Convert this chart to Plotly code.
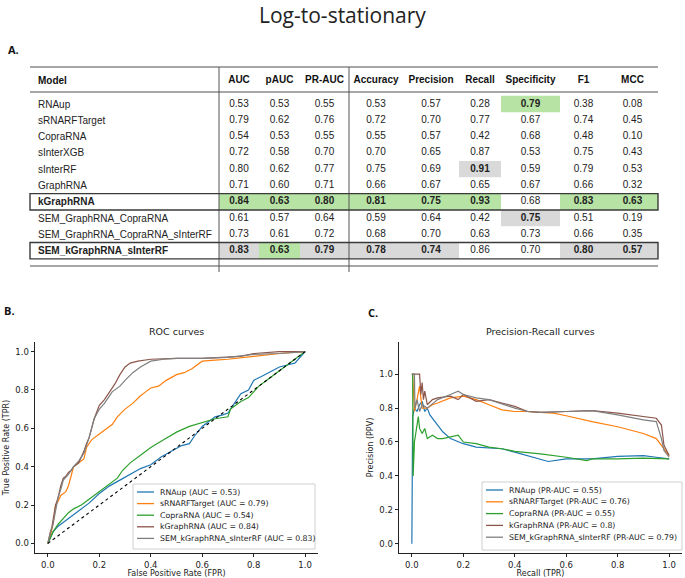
import plotly.graph_objects as go

W, H = 685, 578

# ---------------- table data ----------------
models = ["RNAup", "sRNARFTarget", "CopraRNA", "sInterXGB", "sInterRF", "GraphRNA",
          "kGraphRNA", "SEM_GraphRNA_CopraRNA", "SEM_GraphRNA_CopraRNA_sInterRF",
          "SEM_kGraphRNA_sInterRF"]
metrics = ["AUC", "pAUC", "PR-AUC", "Accuracy", "Precision", "Recall", "Specificity", "F1", "MCC"]
auc = [0.53, 0.79, 0.54, 0.72, 0.80, 0.71, 0.84, 0.61, 0.73, 0.83]
pauc = [0.53, 0.62, 0.53, 0.58, 0.62, 0.60, 0.63, 0.57, 0.61, 0.63]
pr_auc = [0.55, 0.76, 0.55, 0.70, 0.77, 0.71, 0.80, 0.64, 0.72, 0.79]
accuracy = [0.53, 0.72, 0.55, 0.70, 0.75, 0.66, 0.81, 0.59, 0.68, 0.78]
precision = [0.57, 0.70, 0.57, 0.65, 0.69, 0.67, 0.75, 0.64, 0.70, 0.74]
recall = [0.28, 0.77, 0.42, 0.87, 0.91, 0.65, 0.93, 0.42, 0.63, 0.86]
specificity = [0.79, 0.67, 0.68, 0.53, 0.59, 0.67, 0.68, 0.75, 0.73, 0.70]
f1 = [0.38, 0.74, 0.48, 0.75, 0.79, 0.66, 0.83, 0.51, 0.66, 0.80]
mcc = [0.08, 0.45, 0.10, 0.43, 0.53, 0.32, 0.63, 0.19, 0.35, 0.57]
columns = [auc, pauc, pr_auc, accuracy, precision, recall, specificity, f1, mcc]

# highlighted cells (row index, metric)
green_cells = [(0, "Specificity"), (6, "AUC"), (6, "pAUC"), (6, "PR-AUC"), (6, "Accuracy"),
               (6, "Precision"), (6, "Recall"), (6, "F1"), (6, "MCC"), (9, "pAUC")]
grey_cells = [(4, "Recall"), (7, "Specificity"), (9, "AUC"), (9, "PR-AUC"), (9, "Accuracy"),
              (9, "Precision"), (9, "F1"), (9, "MCC")]
boxed_rows = [6, 9]

# ---------------- curve data ----------------
names = ["RNAup", "sRNARFTarget", "CopraRNA", "kGraphRNA", "SEM_kGraphRNA_sInterRF"]
roc_auc = ["0.53", "0.79", "0.54", "0.84", "0.83"]
pr_auc_lbl = ["0.55", "0.76", "0.55", "0.8", "0.79"]
colors = ["#1f77b4", "#ff7f0e", "#2ca02c", "#8c564b", "#7f7f7f"]

roc_rnaup_x = [0, 0.01, 0.02, 0.04, 0.06, 0.08, 0.10, 0.13, 0.16, 0.20, 0.24, 0.28, 0.32, 0.36, 0.40,
               0.44, 0.48, 0.52, 0.55, 0.57, 0.60, 0.62, 0.65, 0.68, 0.70, 0.72, 0.75, 0.78, 0.80,
               0.83, 0.86, 0.90, 0.93, 0.96, 1.0]
roc_rnaup_y = [0, 0.03, 0.06, 0.09, 0.11, 0.13, 0.15, 0.18, 0.21, 0.26, 0.30, 0.33, 0.36, 0.39, 0.41,
               0.45, 0.48, 0.51, 0.52, 0.56, 0.61, 0.63, 0.66, 0.67, 0.68, 0.72, 0.78, 0.80, 0.85,
               0.87, 0.89, 0.92, 0.93, 0.94, 1.0]
roc_srnarf_x = [0, 0.01, 0.02, 0.03, 0.04, 0.05, 0.07, 0.08, 0.09, 0.10, 0.12, 0.14, 0.15, 0.17, 0.20,
                0.22, 0.25, 0.27, 0.30, 0.33, 0.36, 0.38, 0.40, 0.43, 0.46, 0.50, 0.53, 0.56, 0.60,
                0.65, 0.70, 0.80, 0.90, 1.0]
roc_srnarf_y = [0, 0.04, 0.10, 0.20, 0.22, 0.25, 0.27, 0.30, 0.35, 0.40, 0.42, 0.44, 0.50, 0.54, 0.57,
                0.59, 0.62, 0.66, 0.70, 0.73, 0.77, 0.79, 0.81, 0.82, 0.85, 0.88, 0.89, 0.91, 0.95,
                0.955, 0.96, 0.975, 0.99, 1.0]
roc_copra_x = [0, 0.01, 0.02, 0.04, 0.06, 0.08, 0.10, 0.13, 0.16, 0.20, 0.24, 0.27, 0.29, 0.32, 0.36,
               0.40, 0.45, 0.50, 0.55, 0.60, 0.65, 0.70, 0.71, 0.75, 0.78, 0.80, 0.82, 0.86, 0.90,
               0.95, 1.0]
roc_copra_y = [0, 0.03, 0.06, 0.10, 0.13, 0.16, 0.18, 0.20, 0.23, 0.27, 0.31, 0.34, 0.38, 0.42, 0.46,
               0.50, 0.54, 0.58, 0.61, 0.63, 0.65, 0.66, 0.70, 0.74, 0.76, 0.79, 0.82, 0.86, 0.90,
               0.95, 1.0]
roc_kgraph_x = [0, 0.005, 0.01, 0.015, 0.02, 0.025, 0.03, 0.04, 0.05, 0.06, 0.07, 0.08, 0.09, 0.10,
                0.12, 0.13, 0.14, 0.15, 0.16, 0.17, 0.18, 0.20, 0.22, 0.24, 0.26, 0.28, 0.30, 0.32,
                0.35, 0.40, 0.50, 0.60, 0.70, 0.75, 0.80, 0.85, 0.90, 1.0]
roc_kgraph_y = [0, 0.04, 0.06, 0.08, 0.12, 0.18, 0.20, 0.24, 0.30, 0.34, 0.35, 0.37, 0.38, 0.40,
                0.42, 0.45, 0.48, 0.52, 0.55, 0.60, 0.65, 0.72, 0.75, 0.79, 0.83, 0.88, 0.92, 0.94,
                0.95, 0.96, 0.965, 0.965, 0.97, 0.975, 0.99, 0.995, 1.0, 1.0]
roc_sem_x = [0, 0.005, 0.01, 0.02, 0.03, 0.04, 0.05, 0.06, 0.08, 0.10, 0.12, 0.14, 0.16, 0.18, 0.20,
             0.22, 0.25, 0.28, 0.30, 0.33, 0.36, 0.40, 0.45, 0.50, 0.60, 0.70, 0.80, 0.90, 1.0]
roc_sem_y = [0, 0.03, 0.06, 0.10, 0.18, 0.24, 0.28, 0.33, 0.36, 0.40, 0.43, 0.47, 0.55, 0.65, 0.70,
             0.73, 0.79, 0.82, 0.85, 0.89, 0.92, 0.95, 0.96, 0.965, 0.965, 0.97, 0.985, 0.99, 1.0]

pr_rnaup_x = [0, 0.003, 0.01, 0.02, 0.03, 0.04, 0.05, 0.06, 0.07, 0.08, 0.10, 0.12, 0.15, 0.20, 0.25,
              0.30, 0.35, 0.40, 0.45, 0.50, 0.53, 0.60, 0.70, 0.80, 0.90, 0.95, 1.0]
pr_rnaup_y = [0, 0.75, 0.80, 0.78, 0.82, 0.84, 0.78, 0.80, 0.76, 0.74, 0.70, 0.66, 0.62, 0.59, 0.57,
              0.565, 0.56, 0.54, 0.52, 0.50, 0.485, 0.50, 0.50, 0.515, 0.52, 0.51, 0.50]
pr_srnarf_x = [0.003, 0.01, 0.02, 0.03, 0.035, 0.04, 0.06, 0.08, 0.10, 0.15, 0.20, 0.25, 0.30, 0.35,
               0.40, 0.45, 0.50, 0.55, 0.60, 0.70, 0.80, 0.90, 0.95, 0.97, 1.0]
pr_srnarf_y = [1.0, 0.78, 0.85, 0.93, 0.86, 0.80, 0.80, 0.82, 0.83, 0.86, 0.87, 0.85, 0.82, 0.79,
               0.78, 0.78, 0.775, 0.77, 0.755, 0.72, 0.69, 0.65, 0.62, 0.58, 0.52]
pr_copra_x = [0, 0.003, 0.005, 0.01, 0.02, 0.025, 0.03, 0.04, 0.05, 0.06, 0.08, 0.10, 0.12, 0.15,
              0.18, 0.20, 0.25, 0.30, 0.35, 0.40, 0.50, 0.60, 0.68, 0.70, 0.80, 0.90, 1.0]
pr_copra_y = [1.0, 1.0, 0.40, 0.60, 0.70, 0.75, 0.68, 0.65, 0.68, 0.62, 0.64, 0.62, 0.62, 0.63,
              0.64, 0.60, 0.59, 0.57, 0.56, 0.545, 0.53, 0.51, 0.49, 0.50, 0.50, 0.505, 0.50]
pr_kgraph_x = [0, 0.03, 0.035, 0.04, 0.045, 0.05, 0.06, 0.08, 0.10, 0.15, 0.18, 0.20, 0.25, 0.30,
               0.35, 0.40, 0.45, 0.50, 0.60, 0.70, 0.80, 0.90, 0.95, 0.97, 0.98, 1.0]
pr_kgraph_y = [1.0, 1.0, 0.88, 0.95, 0.85, 0.90, 0.82, 0.85, 0.86, 0.87, 0.85, 0.88, 0.84, 0.85,
               0.83, 0.81, 0.78, 0.775, 0.78, 0.785, 0.77, 0.75, 0.74, 0.70, 0.58, 0.52]
pr_sem_x = [0, 0.01, 0.012, 0.02, 0.03, 0.04, 0.06, 0.10, 0.15, 0.18, 0.20, 0.25, 0.30, 0.40, 0.45,
            0.50, 0.60, 0.70, 0.80, 0.90, 0.95, 0.97, 0.98, 1.0]
pr_sem_y = [1.0, 1.0, 0.80, 0.85, 0.78, 0.82, 0.80, 0.85, 0.88, 0.90, 0.88, 0.86, 0.85, 0.80, 0.78,
            0.775, 0.78, 0.785, 0.76, 0.73, 0.72, 0.62, 0.55, 0.51]

roc_x = [roc_rnaup_x, roc_srnarf_x, roc_copra_x, roc_kgraph_x, roc_sem_x]
roc_y = [roc_rnaup_y, roc_srnarf_y, roc_copra_y, roc_kgraph_y, roc_sem_y]
pr_x = [pr_rnaup_x, pr_srnarf_x, pr_copra_x, pr_kgraph_x, pr_sem_x]
pr_y = [pr_rnaup_y, pr_srnarf_y, pr_copra_y, pr_kgraph_y, pr_sem_y]

# ---------------- layout constants (pixels on the page) ----------------
TABLE_L, TABLE_R = 30, 658
TEXT_L = 36
COL_EDGES = [219, 259, 300, 349, 403, 459, 501, 560, 607, 658]
HEADER_Y, ROW0_Y, ROW_STEP = 80, 104, 16.3
TOP_RULE, HEAD_RULE, BOTTOM_RULE = 67, 92, 266
TFONT = "Liberation Sans, Arial, sans-serif"
TSIZE = 10
MFONT = "DejaVu Sans, sans-serif"
# legend boxes: left, top, right, bottom, first entry y, entry step
LEG_ROC = (133, 484, 315, 549, 492, 11.6)
LEG_PR = (482, 482, 682, 550, 490, 11.8)


def row_y(i):
    return ROW0_Y + i * ROW_STEP


def col_center(j):
    return (COL_EDGES[j] + COL_EDGES[j + 1]) / 2


fig = go.Figure()

# ROC curves
for i in range(len(names)):
    fig.add_trace(go.Scatter(x=roc_x[i], y=roc_y[i], mode="lines", showlegend=False,
                             name=f"{names[i]} (AUC = {roc_auc[i]})",
                             line=dict(color=colors[i], width=1.2), xaxis="x", yaxis="y"))
fig.add_trace(go.Scatter(x=[0, 1], y=[0, 1], mode="lines", showlegend=False,
                         line=dict(color="black", width=1.1, dash="dot"), xaxis="x", yaxis="y"))

# PR curves
for i in range(len(names)):
    fig.add_trace(go.Scatter(x=pr_x[i], y=pr_y[i], mode="lines", showlegend=False,
                             name=f"{names[i]} (PR-AUC = {pr_auc_lbl[i]})",
                             line=dict(color=colors[i], width=1.2), xaxis="x2", yaxis="y2"))

# table text (left-aligned names are anchored with annotations below)
fig.add_trace(go.Scatter(x=[col_center(j) for j in range(len(metrics))],
                         y=[HEADER_Y] * len(metrics), mode="text",
                         text=[f"<b>{m}</b>" for m in metrics], textposition="middle center",
                         showlegend=False, hoverinfo="skip",
                         textfont=dict(family=TFONT, size=TSIZE, color="#111"),
                         xaxis="x3", yaxis="y3"))
hl = set(green_cells) | set(grey_cells)
vx, vy, vt = [], [], []
for j, m in enumerate(metrics):
    for i in range(len(models)):
        v = f"{columns[j][i]:.2f}"
        vx.append(col_center(j))
        vy.append(row_y(i))
        vt.append(f"<b>{v}</b>" if (i, m) in hl else v)
fig.add_trace(go.Scatter(x=vx, y=vy, mode="text", text=vt, textposition="middle center",
                         showlegend=False, hoverinfo="skip",
                         textfont=dict(family=TFONT, size=TSIZE, color="#222"),
                         xaxis="x3", yaxis="y3"))

shapes = []
for cells, col in [(green_cells, "#b7e4a4"), (grey_cells, "#d9d9d9")]:
    for i, m in cells:
        j = metrics.index(m)
        shapes.append(dict(type="rect", xref="x3", yref="y3", layer="below",
                           x0=COL_EDGES[j], x1=COL_EDGES[j + 1],
                           y0=row_y(i) - ROW_STEP / 2, y1=row_y(i) + ROW_STEP / 2,
                           fillcolor=col, line=dict(width=0)))
for yy in [TOP_RULE, HEAD_RULE, BOTTOM_RULE]:
    shapes.append(dict(type="line", xref="x3", yref="y3", x0=TABLE_L, x1=TABLE_R, y0=yy, y1=yy,
                       line=dict(color="#8a8a8a", width=1.3)))
for xx in [COL_EDGES[0], COL_EDGES[3]]:
    shapes.append(dict(type="line", xref="x3", yref="y3", x0=xx, x1=xx, y0=TOP_RULE,
                       y1=BOTTOM_RULE + 6, line=dict(color="#555", width=1)))
for i in boxed_rows:
    shapes.append(dict(type="rect", xref="x3", yref="y3", x0=TABLE_L, x1=TABLE_R,
                       y0=row_y(i) - ROW_STEP / 2, y1=row_y(i) + ROW_STEP / 2,
                       line=dict(color="#3a3a3a", width=1.4)))

ann = [
    dict(text="Log-to-stationary", x=0.5, y=1 - 15 / H, xref="paper", yref="paper",
         yanchor="middle", showarrow=False, font=dict(family="Open Sans", size=21, color="#222")),
    dict(text="<b>A.</b>", x=6 / W, y=1 - 50 / H, xanchor="left", yanchor="middle", xref="paper",
         yref="paper", showarrow=False, font=dict(family="Open Sans", size=11, color="#111")),
    dict(text="<b>B.</b>", x=2 / W, y=1 - 310 / H, xanchor="left", yanchor="middle", xref="paper",
         yref="paper", showarrow=False, font=dict(family="Open Sans", size=11, color="#111")),
    dict(text="<b>C.</b>", x=366 / W, y=1 - 312 / H, xanchor="left", yanchor="middle",
         xref="paper", yref="paper", showarrow=False,
         font=dict(family="Open Sans", size=11, color="#111")),
    dict(text="ROC curves", x=0.5, y=1, xref="x domain", yref="y domain", yanchor="bottom",
         yshift=3, showarrow=False, font=dict(family=MFONT, size=9.5, color="#222")),
    dict(text="Precision-Recall curves", x=0.5, y=1, xref="x2 domain", yref="y2 domain",
         yanchor="bottom", yshift=3, showarrow=False,
         font=dict(family=MFONT, size=9.5, color="#222")),
    dict(text="<b>Model</b>", x=TEXT_L, y=HEADER_Y, xref="x3", yref="y3", xanchor="left",
         yanchor="middle", showarrow=False, font=dict(family=TFONT, size=TSIZE, color="#111")),
]
for i, m in enumerate(models):
    ann.append(dict(text=f"<b>{m}</b>" if i in boxed_rows else m, x=TEXT_L, y=row_y(i),
                    xref="x3", yref="y3", xanchor="left", yanchor="middle", showarrow=False,
                    font=dict(family=TFONT, size=TSIZE, color="#222")))

# legends in the matplotlib style (compact entries): box + line samples as shapes, labels as annotations
for (l, t, r, b, y0, step), labels in [
        (LEG_ROC, [f"{n} (AUC = {a})" for n, a in zip(names, roc_auc)]),
        (LEG_PR, [f"{n} (PR-AUC = {a})" for n, a in zip(names, pr_auc_lbl)])]:
    shapes.append(dict(type="rect", xref="x3", yref="y3", x0=l, x1=r, y0=t, y1=b,
                       fillcolor="rgba(255,255,255,0.85)", line=dict(color="#d0d0d0", width=1)))
    for k, lab in enumerate(labels):
        yy = y0 + k * step
        shapes.append(dict(type="line", xref="x3", yref="y3", x0=l + 4, x1=l + 21, y0=yy, y1=yy,
                           line=dict(color=colors[k], width=1.3)))
        ann.append(dict(text=lab, x=l + 25, y=yy, xref="x3", yref="y3", xanchor="left",
                        yanchor="middle", showarrow=False,
                        font=dict(family=MFONT, size=7.8, color="#222")))

ax_common = dict(showline=True, linecolor="#222", linewidth=0.9, ticks="outside", ticklen=3.5,
                 tickwidth=0.9, tickcolor="#222", showgrid=False, zeroline=False,
                 tickformat=".1f", dtick=0.2, tick0=0, fixedrange=True,
                 tickfont=dict(family=MFONT, size=8.5, color="#222"))
y_dom = [1 - 553 / H, 1 - 342 / H]

fig.update_layout(
    width=W, height=H, autosize=False, margin=dict(l=0, r=0, t=0, b=0),
    plot_bgcolor="rgba(0,0,0,0)", paper_bgcolor="white", showlegend=False,
    xaxis=dict(ax_common, domain=[35 / W, 318 / W], range=[-0.05, 1.05], anchor="y",
               title=dict(text="False Positive Rate (FPR)", standoff=2,
                          font=dict(family=MFONT, size=8, color="#222"))),
    yaxis=dict(ax_common, domain=y_dom, range=[-0.05, 1.05], anchor="x",
               title=dict(text="True Positive Rate (TPR)", standoff=4,
                          font=dict(family=MFONT, size=8, color="#222"))),
    xaxis2=dict(ax_common, domain=[399 / W, 682 / W], range=[-0.05, 1.05], anchor="y2",
                title=dict(text="Recall (TPR)", standoff=2,
                           font=dict(family=MFONT, size=8, color="#222"))),
    yaxis2=dict(ax_common, domain=y_dom, range=[-0.055, 1.19], anchor="x2",
                title=dict(text="Precision (PPV)", standoff=4,
                           font=dict(family=MFONT, size=8, color="#222"))),
    xaxis3=dict(domain=[0, 1], range=[0, W], visible=False, fixedrange=True, anchor="y3"),
    yaxis3=dict(domain=[0, 1], range=[H, 0], visible=False, fixedrange=True, anchor="x3"),
    shapes=shapes, annotations=ann,
)

fig.write_html("out.html", config={"displayModeBar": False},
               post_script="document.body.style.margin='0';")
